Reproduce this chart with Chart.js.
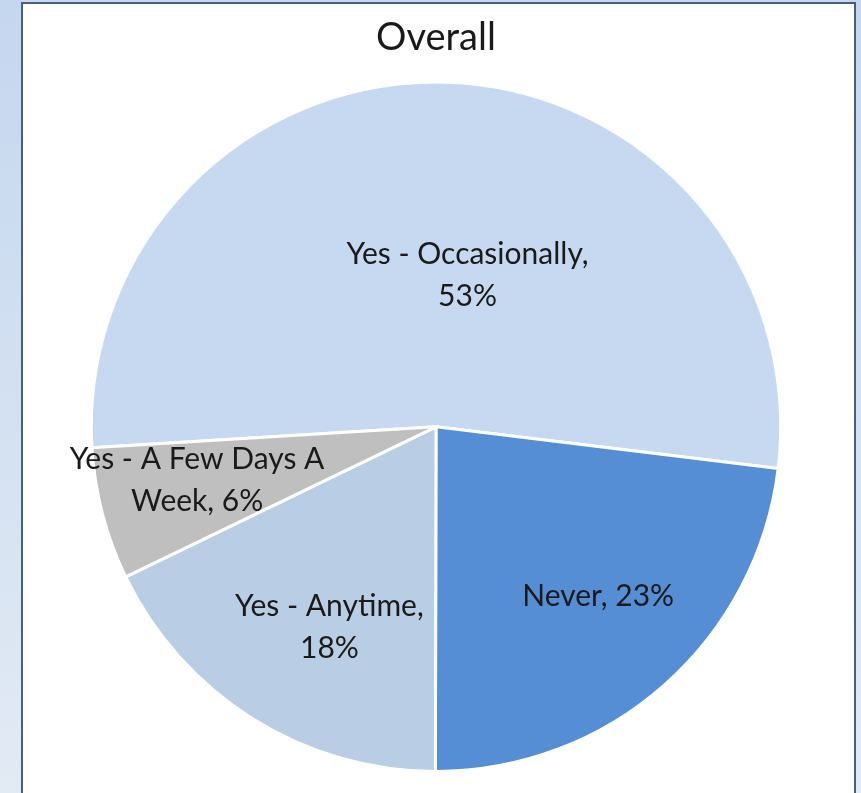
<!DOCTYPE html>
<html>
<head>
<meta charset="utf-8">
<script src="https://cdn.jsdelivr.net/npm/chart.js@4.4.0/dist/chart.umd.min.js"></script>
<style>
html, body { margin: 0; padding: 0; }
body { width: 861px; height: 793px; overflow: hidden; position: relative;
       background: linear-gradient(#c4d7ef, #e2eaf4); }
#frame { position: absolute; left: 21px; top: 2px; width: 831px; height: 820px;
         background: #fff; border: 2px solid #4a5f80; }
#wrap { position: absolute; left: 0; top: 0; width: 861px; height: 793px; }
</style>
</head>
<body>
<div id="frame"></div>
<div id="wrap"><canvas id="myPie"></canvas></div>
<script>
// data
const categories = ['Yes - Occasionally', 'Never', 'Yes - Anytime', 'Yes - A Few Days A Week'];
const shares = [52.9, 23.1, 17.8, 6.2];
const sliceColors = ['#c6d9f1', '#558ed5', '#b9cde5', '#bfbfbf'];

// greedy word wrap for the labels
function wrapText(ctx, text, maxWidth) {
    const words = text.split(' ');
    const lines = [];
    let line = '';
    words.forEach(function (w) {
        const test = line ? line + ' ' + w : w;
        if (line && ctx.measureText(test).width > maxWidth) {
            lines.push(line);
            line = w;
        } else {
            line = test;
        }
    });
    if (line) lines.push(line);
    return lines;
}

// draws "Category, NN%" inside each slice
const sliceLabels = {
    id: 'sliceLabels',
    afterDatasetsDraw(chart, args, opts) {
        const ctx = chart.ctx;
        const meta = chart.getDatasetMeta(0);
        const total = shares.reduce((a, b) => a + b, 0);
        ctx.save();
        ctx.font = opts.font;
        ctx.fillStyle = opts.color;
        ctx.textAlign = 'center';
        ctx.textBaseline = 'middle';
        meta.data.forEach(function (arc, i) {
            const p = arc.getProps(['x', 'y', 'startAngle', 'endAngle', 'outerRadius']);
            const mid = (p.startAngle + p.endAngle) / 2 + opts.angleShift[i] * Math.PI / 180;
            const r = p.outerRadius * opts.radius[i];
            const cx = p.x + Math.cos(mid) * r;
            const cy = p.y + Math.sin(mid) * r;
            const text = categories[i] + ', ' + Math.round(shares[i] / total * 100) + '%';
            const lines = wrapText(ctx, text, opts.maxWidth[i]);
            const top = cy - (lines.length - 1) * opts.lineHeight / 2;
            lines.forEach(function (ln, k) {
                ctx.fillText(ln, cx, top + k * opts.lineHeight);
            });
        });
        ctx.restore();
    }
};

const configPie = {
    type: 'pie',
    data: {
        labels: categories,
        datasets: [{
            data: shares,
            backgroundColor: sliceColors,
            borderColor: '#ffffff',
            borderWidth: 3
        }]
    },
    options: {
        responsive: true,
        maintainAspectRatio: false,
        animation: false,
        rotation: 266.5,
        layout: { padding: { left: 11, right: 0, top: 0, bottom: 20 } },
        plugins: {
            legend: { display: false },
            tooltip: { enabled: false },
            title: {
                display: true,
                text: 'Overall',
                color: '#1a1a1a',
                font: { family: 'Lato', size: 38, weight: 'normal', lineHeight: 1.2 },
                padding: { top: 15, bottom: 20 }
            },
            sliceLabels: {
                font: '30px Lato',
                color: '#1a1a1a',
                lineHeight: 42,
                radius: [0.45, 0.68, 0.66, 0.71],
                angleShift: [10, -2.3, -4.2, 2.1],
                maxWidth: [285, 400, 225, 285]
            }
        }
    },
    plugins: [sliceLabels]
};

const myPie = new Chart(document.getElementById('myPie'), configPie);
</script>
</body>
</html>
